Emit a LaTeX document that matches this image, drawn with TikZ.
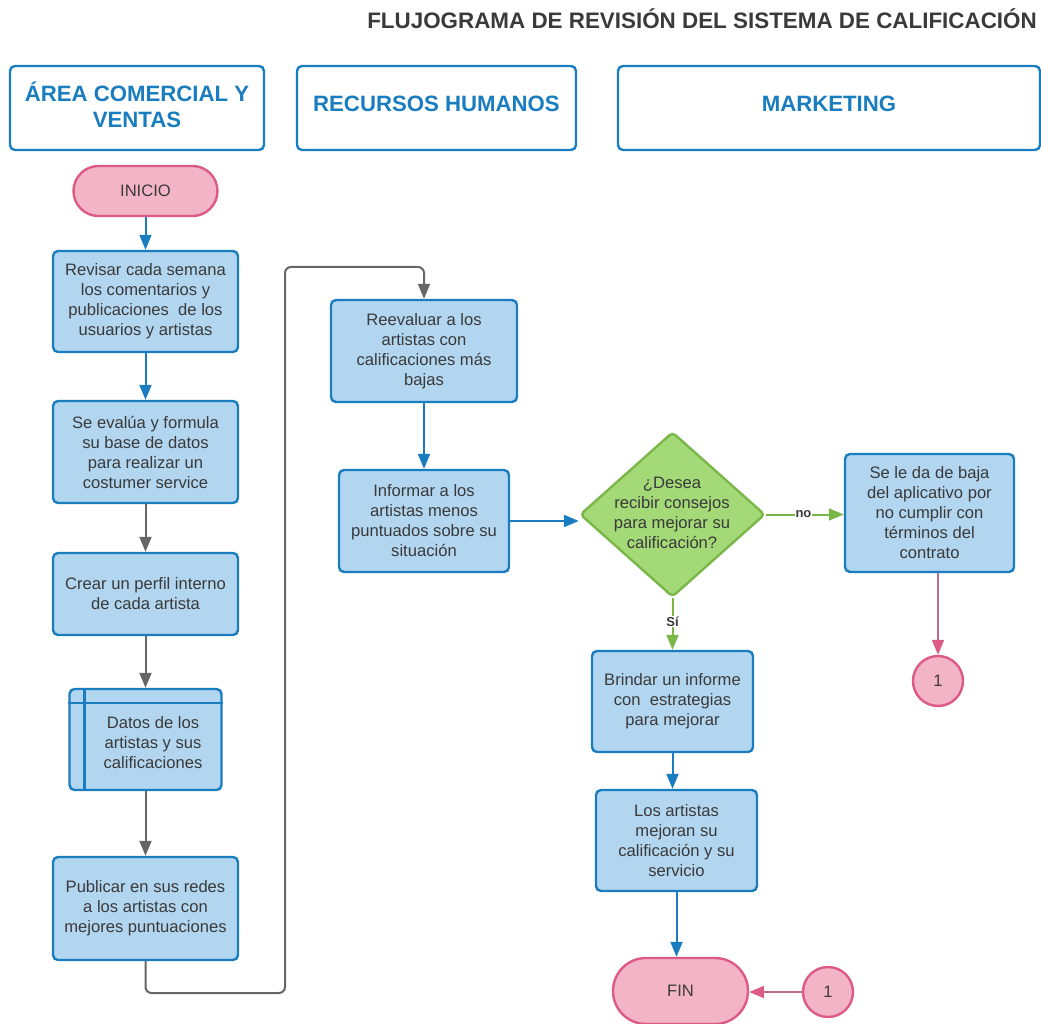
\documentclass[tikz,border=0pt]{standalone}
\usepackage{fontspec}
\setmainfont{Liberation Sans}
\usetikzlibrary{arrows.meta,shapes.geometric,calc}

\definecolor{boxblue}{HTML}{1A7DC0}
\definecolor{boxfill}{HTML}{B2D6F0}
\definecolor{txtgray}{HTML}{3A3A3A}
\definecolor{arrgray}{HTML}{666666}
\definecolor{decfill}{HTML}{A3D977}
\definecolor{decline}{HTML}{7AB648}
\definecolor{pinkfill}{HTML}{F4B4C8}
\definecolor{pinkline}{HTML}{DC5A84}
\definecolor{mauveline}{HTML}{C06A92}

\newcommand{\bodyfont}{\fontsize{16.6}{20}\selectfont}
\newcommand{\headfont}{\fontsize{22.2}{26}\selectfont\bfseries}

\tikzset{
  x=1pt, y=-1pt,
  proc/.style={draw=boxblue, fill=boxfill, line width=2.4pt, rounded corners=5pt,
    align=center, font=\bodyfont, text=txtgray, inner sep=0pt},
  lane/.style={draw=boxblue, fill=white, line width=2.4pt, rounded corners=5pt, inner sep=0pt},
  lanetext/.style={align=center, font=\headfont, text=boxblue, inner sep=0pt},
  term/.style={draw=pinkline, fill=pinkfill, line width=2.4pt,
    align=center, font=\bodyfont, text=txtgray, inner sep=0pt},
  conn/.style={circle, draw=pinkline, fill=pinkfill, line width=2.4pt,
    minimum size=50pt, inner sep=0pt, font=\bodyfont, text=txtgray},
  decision/.style={diamond, draw=decline, fill=decfill, line width=2.4pt,
    rounded corners=4pt, minimum width=185pt, minimum height=165pt, inner sep=0pt},
  plain/.style={align=center, font=\bodyfont, text=txtgray, inner sep=0pt},
  tag/.style={font=\fontsize{13}{15}\selectfont\bfseries, text=txtgray, fill=white, inner sep=1pt},
  arr/.style={line width=2pt, -{Triangle[length=15pt,width=12pt]}},
  bluearr/.style={arr, draw=boxblue},
  grayarr/.style={arr, draw=arrgray},
  greenarr/.style={arr, draw=decline},
  pinkarr/.style={line width=2pt, draw=mauveline, -{Triangle[length=15pt,width=12pt,color=pinkline]}},
}

\begin{document}
\begin{tikzpicture}
\useasboundingbox (0,0) rectangle (1041,1024);

% title
\node[anchor=east, font=\fontsize{22.4}{26}\selectfont\bfseries, text=txtgray, inner sep=0pt]
  (title) at (1037,19) {FLUJOGRAMA DE REVISIÓN DEL SISTEMA DE CALIFICACIÓN};

% lane headers
\node[lane, minimum width=254pt, minimum height=84pt] (lane1) at (137,108) {};
\node[lane, minimum width=279pt, minimum height=84pt] (lane2) at (436.5,108) {};
\node[lane, minimum width=422pt, minimum height=84pt] (lane3) at (829,108) {};
\node[lanetext] (lane1txt) at (137,105) {ÁREA COMERCIAL Y\\VENTAS};
\node[lanetext] (lane2txt) at (436.5,104) {RECURSOS HUMANOS};
\node[lanetext] (lane3txt) at (829,104) {MARKETING};

% commercial column
\node[term, rounded corners=25pt, minimum width=144pt, minimum height=50pt] (inicio) at (145.5,191) {INICIO};
\node[proc, minimum width=185pt, minimum height=101pt] (a1) at (145.5,301.5)
  {Revisar cada semana\\los comentarios y\\publicaciones\ \ de los\\usuarios y artistas};
\node[proc, minimum width=185pt, minimum height=102pt] (a2) at (145.5,452)
  {Se evalúa y formula\\su base de datos\\para realizar un\\costumer service};
\node[proc, minimum width=185pt, minimum height=82pt] (a3) at (145.5,594)
  {Crear un perfil interno\\de cada artista};
\node[proc, minimum width=152pt, minimum height=101pt] (ds) at (145.5,739.5) {};
\draw[boxblue, line width=2.4pt] ($(ds.north west)+(16,0)$) -- ($(ds.south west)+(16,0)$);
\draw[boxblue, line width=2.4pt] ($(ds.north west)+(0,15)$) -- ($(ds.north east)+(0,15)$);
\node[plain] (dstxt) at (153,743) {Datos de los\\artistas y sus\\calificaciones};
\node[proc, minimum width=185pt, minimum height=103pt] (a5) at (145.5,908.5)
  {Publicar en sus redes\\a los artistas con\\mejores puntuaciones};

% human resources column
\node[proc, minimum width=186pt, minimum height=102pt] (b1) at (424,351)
  {Reevaluar a los\\artistas con\\calificaciones más\\bajas};
\node[proc, minimum width=170pt, minimum height=102pt] (b2) at (424,521)
  {Informar a los\\artistas menos\\puntuados sobre su\\situación};

% marketing column
\node[decision] (dec) at (672.5,514.5) {};
\node[plain] (dectxt) at (672,513) {¿Desea\\recibir consejos\\para mejorar su\\calificación?};
\node[proc, minimum width=169pt, minimum height=118pt] (c1) at (929.5,513)
  {Se le da de baja\\del aplicativo por\\no cumplir con\\términos del\\contrato};
\node[conn] (k1) at (938,681) {1};
\node[proc, minimum width=161pt, minimum height=101pt] (d1) at (672.5,701.5)
  {Brindar un informe\\con\ \ estrategias\\para mejorar};
\node[proc, minimum width=161pt, minimum height=101pt] (d2) at (676.5,840.5)
  {Los artistas\\mejoran su\\calificación y su\\servicio};
\node[term, rounded corners=33pt, minimum width=135pt, minimum height=66pt] (fin) at (680.5,991) {FIN};
\node[conn] (k2) at (828,992) {1};

% connectors
\coordinate (lowturn) at (285,993);
\coordinate (highturn) at (285,267);

\draw[bluearr] (inicio) -- (a1);
\draw[bluearr] (a1) -- (a2);
\draw[grayarr] (a2) -- (a3);
\draw[grayarr] (a3) -- (ds);
\draw[grayarr] (ds) -- (a5);
\draw[grayarr, rounded corners=6pt] (a5.south) |- (lowturn) -- (highturn) -| (b1.north);
\draw[bluearr] (b1) -- (b2);
\draw[bluearr] (b2.east) -- (b2.east -| dec.west);
\draw[greenarr] (dec.east) -- node[tag, pos=0.48] (notag) {no} (dec.east -| c1.west);
\draw[greenarr] (dec.south) -- node[tag, pos=0.45] (sitag) {Sí} (d1.north);
\draw[pinkarr] (k1.north |- c1.south) -- (k1.north);
\draw[bluearr] (d1.south) -- (d1.south |- d2.north);
\draw[bluearr] (d2.south) -- (d2.south |- fin.north);
\draw[pinkarr] (k2.west) -- (k2.west -| fin.east);
\end{tikzpicture}
\end{document}
